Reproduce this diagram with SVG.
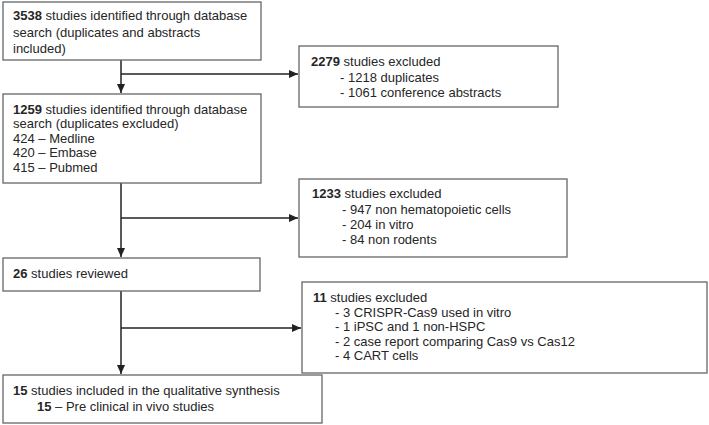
<svg xmlns="http://www.w3.org/2000/svg" width="709" height="425" viewBox="0 0 709 425">
<style>
.box{fill:#fff;stroke:#666;stroke-width:1.3}
.t{font-family:"Liberation Sans",Arial,sans-serif;font-size:13px;fill:#262626}
.b{font-weight:bold}
.c{fill:none;stroke:#222;stroke-width:1.5}
</style>
<defs>
<marker id="ah" markerWidth="10" markerHeight="10" refX="9" refY="5" orient="auto" markerUnits="userSpaceOnUse">
<path d="M0,1 L9,5 L0,9 Z" fill="#222"/>
</marker>
</defs>
<rect width="709" height="425" fill="#fff"/>
<g id="connectors">
<line class="c" x1="121" y1="60" x2="121" y2="93" marker-end="url(#ah)"/>
<line class="c" x1="121" y1="74" x2="298" y2="74" marker-end="url(#ah)"/>
<line class="c" x1="121" y1="183" x2="121" y2="257" marker-end="url(#ah)"/>
<line class="c" x1="121" y1="218" x2="298" y2="218" marker-end="url(#ah)"/>
<line class="c" x1="121" y1="291" x2="121" y2="374" marker-end="url(#ah)"/>
<line class="c" x1="121" y1="328" x2="301" y2="328" marker-end="url(#ah)"/>
</g>
<g id="n1">
<rect class="box" x="3" y="2" width="258" height="58"/>
<text class="t" x="13" y="20"><tspan class="b">3538</tspan> studies identified through database</text>
<text class="t" x="13" y="37">search (duplicates and abstracts</text>
<text class="t" x="13" y="53">included)</text>
</g>
<g id="n2">
<rect class="box" x="299" y="46" width="259" height="61"/>
<text class="t" x="311" y="65.5"><tspan class="b">2279</tspan> studies excluded</text>
<text class="t" x="340" y="81.5">- 1218 duplicates</text>
<text class="t" x="340" y="96.5">- 1061 conference abstracts</text>
</g>
<g id="n3">
<rect class="box" x="3" y="94" width="258" height="89"/>
<text class="t" x="13" y="113.5"><tspan class="b">1259</tspan> studies identified through database</text>
<text class="t" x="13" y="128">search (duplicates excluded)</text>
<text class="t" x="13" y="142.5">424 – Medline</text>
<text class="t" x="13" y="157">420 – Embase</text>
<text class="t" x="13" y="171.5">415 – Pubmed</text>
</g>
<g id="n4">
<rect class="box" x="299" y="179" width="268" height="78"/>
<text class="t" x="312" y="197.5"><tspan class="b">1233</tspan> studies excluded</text>
<text class="t" x="342" y="213.5">- 947 non hematopoietic cells</text>
<text class="t" x="342" y="228.5">- 204 in vitro</text>
<text class="t" x="342" y="243.5">- 84 non rodents</text>
</g>
<g id="n5">
<rect class="box" x="3" y="258" width="257" height="33"/>
<text class="t" x="13" y="277.5"><tspan class="b">26</tspan> studies reviewed</text>
</g>
<g id="n6">
<rect class="box" x="302" y="282" width="405" height="91"/>
<text class="t" x="313" y="302"><tspan class="b">11</tspan> studies excluded</text>
<text class="t" x="335" y="316.5">- 3 CRISPR-Cas9 used in vitro</text>
<text class="t" x="335" y="331">- 1 iPSC and 1 non-HSPC</text>
<text class="t" x="335" y="345.5">- 2 case report comparing Cas9 vs Cas12</text>
<text class="t" x="335" y="360">- 4 CART cells</text>
</g>
<g id="n7">
<rect class="box" x="3" y="375" width="319" height="48"/>
<text class="t" x="13" y="394.5"><tspan class="b">15</tspan> studies included in the qualitative synthesis</text>
<text class="t" x="37" y="410.5"><tspan class="b">15</tspan> – Pre clinical in vivo studies</text>
</g>
</svg>
